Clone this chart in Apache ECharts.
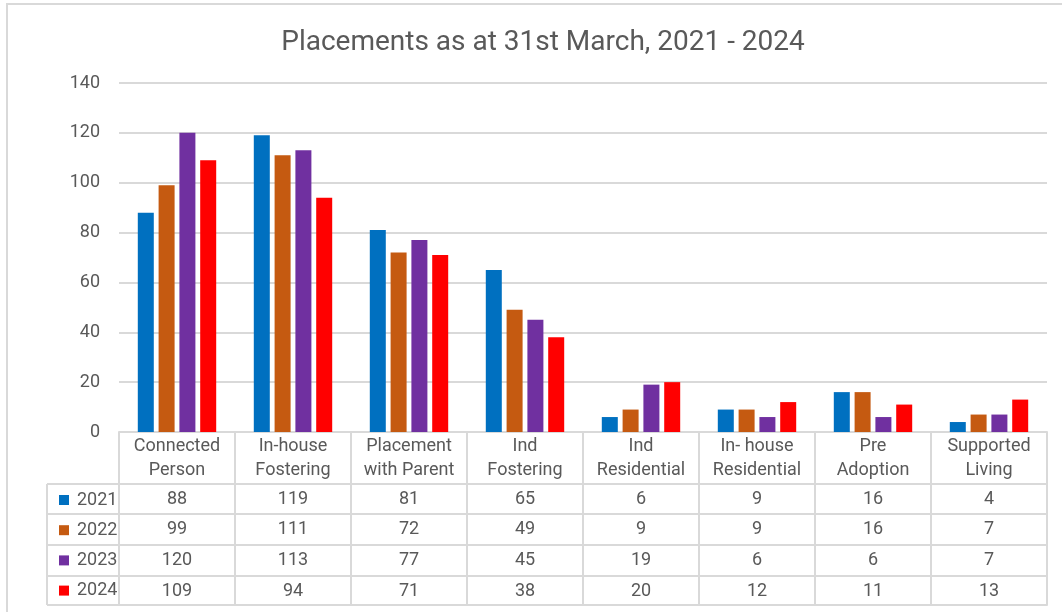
<!DOCTYPE html>
<html>
<head>
<meta charset="utf-8">
<script src="https://cdn.jsdelivr.net/npm/echarts@6/dist/echarts.min.js"></script>
<style>
  html, body { margin: 0; padding: 0; background: #fff; }
  #main { width: 1062px; height: 612px; }
</style>
</head>
<body>
<div id="main"></div>
<script>
var categories = ['Connected\nPerson', 'In-house\nFostering', 'Placement\nwith Parent', 'Ind\nFostering',
    'Ind\nResidential', 'In- house\nResidential', 'Pre\nAdoption', 'Supported\nLiving'];
var years = ['2021', '2022', '2023', '2024'];
var v2021 = [88, 119, 81, 65, 6, 9, 16, 4];
var v2022 = [99, 111, 72, 49, 9, 9, 16, 7];
var v2023 = [120, 113, 77, 45, 19, 6, 6, 7];
var v2024 = [109, 94, 71, 38, 20, 12, 11, 13];
var yTicks = [0, 20, 40, 60, 80, 100, 120, 140];

var values = [v2021, v2022, v2023, v2024];
var colors = ['#0070C0', '#C55A11', '#7030A0', '#FF0000'];

var font = 'Roboto, "Noto Sans", sans-serif';
var textColor = '#595959';
var lineColor = '#d9d9d9';

// table geometry (pixels)
var axisY = 432;
var rowLines = [484, 514, 545, 576, 605];
var tableLeft = 47, tableInner = 119;

var chart = echarts.init(document.getElementById('main'));

var xAxes = [{
    type: 'category',
    data: categories,
    position: 'bottom',
    axisLine: {lineStyle: {color: lineColor, width: 2}},
    axisTick: {show: true, length: rowLines[4] - axisY, lineStyle: {color: lineColor, width: 2}},
    axisLabel: {interval: 0, margin: 2, fontFamily: font, fontSize: 18, lineHeight: 24, color: textColor}
}];
values.forEach(function (vals, i) {
    xAxes.push({
        type: 'category',
        data: categories,
        position: 'bottom',
        offset: rowLines[i] - axisY,
        axisLine: {lineStyle: {color: lineColor, width: 2}},
        axisTick: {show: false},
        axisLabel: {
            interval: 0, margin: 5, fontFamily: font, fontSize: 18, lineHeight: 20, color: textColor,
            formatter: function (v, idx) { return String(vals[idx]); }
        }
    });
});
xAxes.push({
    type: 'category',
    data: categories,
    position: 'bottom',
    offset: rowLines[4] - axisY,
    axisLine: {lineStyle: {color: lineColor, width: 2}},
    axisTick: {show: false},
    axisLabel: {show: false}
});

// outer frame and borders of the legend column
var graphics = [{
    type: 'rect',
    shape: {x: 7, y: 4, width: 1200, height: 800},
    style: {fill: 'none', stroke: lineColor, lineWidth: 2},
    silent: true
}, {
    type: 'line',
    shape: {x1: tableLeft, y1: rowLines[0], x2: tableLeft, y2: rowLines[4]},
    style: {stroke: lineColor, lineWidth: 2}
}];
rowLines.forEach(function (y) {
    graphics.push({
        type: 'line',
        shape: {x1: tableLeft, y1: y, x2: tableInner, y2: y},
        style: {stroke: lineColor, lineWidth: 2}
    });
});

var option = {
    animation: false,
    title: {
        text: 'Placements as at 31st March, 2021 - 2024',
        left: 538,
        top: 24,
        textAlign: 'center',
        textStyle: {fontFamily: font, fontSize: 28, fontWeight: 'normal', color: textColor}
    },
    legend: {
        data: years,
        orient: 'vertical',
        left: 54,
        top: 485,
        itemWidth: 10,
        itemHeight: 10,
        itemGap: 10.2,
        icon: 'rect',
        selectedMode: false,
        textStyle: {fontFamily: font, fontSize: 18, lineHeight: 20, color: textColor, padding: [0, 0, 0, 3]}
    },
    grid: {left: tableInner, right: 15, top: 83, bottom: 612 - axisY, containLabel: false},
    xAxis: xAxes,
    yAxis: {
        type: 'value',
        min: yTicks[0],
        max: yTicks[yTicks.length - 1],
        interval: 20,
        axisLine: {show: false},
        axisTick: {show: false},
        axisLabel: {margin: 19, fontFamily: font, fontSize: 18, color: textColor},
        splitLine: {lineStyle: {color: lineColor, width: 2}}
    },
    graphic: graphics,
    series: years.map(function (y, i) {
        return {
            name: y,
            type: 'bar',
            xAxisIndex: 0,
            data: values[i],
            barWidth: 16,
            barGap: '30%',
            itemStyle: {color: colors[i]}
        };
    })
};

chart.setOption(option);
</script>
</body>
</html>
